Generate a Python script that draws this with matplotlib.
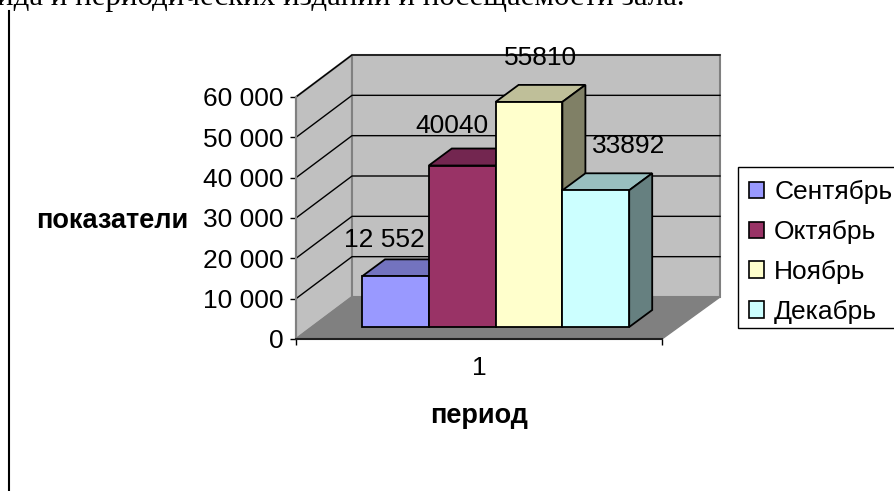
import matplotlib.pyplot as plt
from matplotlib.patches import Patch, Polygon, Rectangle

plt.rcParams['font.family'] = ['Liberation Sans', 'DejaVu Sans']

months = ['Сентябрь', 'Октябрь', 'Ноябрь', 'Декабрь']
values = [12552, 40040, 55810, 33892]
value_labels = ['12 552', '40040', '55810', '33892']
colors = ['#9999FF', '#993366', '#FFFFCC', '#CCFFFF']
top_colors = ['#7373BF', '#732650', '#BFBF99', '#99BFBF']
side_colors = ['#4D4D80', '#4D1A33', '#808066', '#668080']
yticks = [0, 10000, 20000, 30000, 40000, 50000, 60000]
ytick_labels = ['0', '10 000', '20 000', '30 000', '40 000', '50 000', '60 000']

W, H = 895, 491
fig = plt.figure(figsize=(W / 100, H / 100), dpi=100)
ax = fig.add_axes([296 / W, 1 - 339 / H, 366 / W, 242 / H])
ax.set_xlim(0, 366)
ax.set_ylim(0, 60000)
unit = 60000 / 242  # value units per pixel

# oblique depth of the chart box and of the bars
wall_dx, wall_dy = 56, 42 * unit
wall_right = 424
bar_dx, bar_dy = 23, 17 * unit
base = 12 * unit
bar_w = 66.8
bar_x0 = 66

ax.add_patch(Polygon([(0, 0), (wall_dx, wall_dy), (wall_dx, 60000 + wall_dy), (0, 60000)],
                     fc='#C0C0C0', ec='#808080', lw=1.5, clip_on=False, zorder=1))
ax.add_patch(Polygon([(wall_dx, wall_dy), (wall_right, wall_dy), (wall_right, 60000 + wall_dy),
                      (wall_dx, 60000 + wall_dy)],
                     fc='#C0C0C0', ec='#808080', lw=1.5, clip_on=False, zorder=1))
ax.add_patch(Polygon([(0, 0), (366, 0), (wall_right, wall_dy), (wall_dx, wall_dy)],
                     fc='#808080', ec='#808080', lw=1, clip_on=False, zorder=1))

for t in yticks[1:]:
    ax.plot([0, wall_dx, wall_right], [t, t + wall_dy, t + wall_dy],
            color='black', lw=1, clip_on=False, zorder=2)

for i, v in enumerate(values):
    x = bar_x0 + i * bar_w
    z = 3 + i
    ax.add_patch(Polygon([(x, v + base), (x + bar_dx, v + base + bar_dy), (x + bar_w + bar_dx, v + base + bar_dy),
                          (x + bar_w, v + base)],
                         fc=top_colors[i], ec='black', lw=1.3, clip_on=False, zorder=z))
    ax.add_patch(Polygon([(x + bar_w, base), (x + bar_w + bar_dx, base + bar_dy), (x + bar_w + bar_dx, v + base + bar_dy),
                          (x + bar_w, v + base)],
                         fc=side_colors[i], ec='black', lw=1.3, clip_on=False, zorder=z))
    ax.bar(x, v, width=bar_w, bottom=base, align='edge', color=colors[i], edgecolor='black', lw=1.3,
           clip_on=False, zorder=z)

# labels were moved by hand in the original, so each has its own offset
label_dx = [-11, -10, 12, 33]
label_dy = [36, 40, 44, 44]
for i, v in enumerate(values):
    x = bar_x0 + (i + 0.5) * bar_w + label_dx[i]
    ax.text(x, v + base + label_dy[i] * unit, value_labels[i], ha='center', va='center', fontsize=19, zorder=10)

for s in ['top', 'right']:
    ax.spines[s].set_visible(False)
ax.spines['left'].set_color('#808080')
ax.spines['left'].set_linewidth(1.5)
ax.spines['bottom'].set_color('#202020')
ax.spines['bottom'].set_linewidth(1.5)
ax.spines['bottom'].set_zorder(9)
ax.patch.set_visible(False)
ax.set_yticks(yticks, ytick_labels, fontsize=19)
ax.set_xticks([0, 366], ['', ''])
ax.set_xticks([183], ['1'], minor=True, fontsize=19)
ax.tick_params(axis='x', which='minor', length=0, pad=12)
ax.tick_params(axis='both', which='major', length=4, width=1)
ax.tick_params(axis='y', which='major', pad=5)

fig.text(112 / W, 1 - 221 / H, 'показатели', fontsize=19.5, fontweight='bold', ha='center', va='center')
fig.text(479 / W, 1 - 416 / H, 'период', fontsize=19.5, fontweight='bold', ha='center', va='center')

# legend frame is separate: the original box runs off the right edge and has a tighter bottom
fig.add_artist(Rectangle((738 / W, 1 - 328 / H), 175 / W, 161 / H, transform=fig.transFigure,
                         fc='white', ec='black', lw=1))
handles = [Patch(fc=c, ec='black', lw=1.2) for c in colors]
fig.legend(handles, months, loc='upper left', bbox_to_anchor=(738 / W, 1 - 169 / H),
           bbox_transform=fig.transFigure,
           fontsize=19, frameon=False, borderaxespad=0,
           handlelength=0.57, handleheight=0.57, handletextpad=0.38, labelspacing=0.6, borderpad=0.42)

fig.text(-3 / W, 1 - 5 / H, 'ида и периодических изданий и посещаемости зала.',
         family='Liberation Serif', fontsize=22.2, ha='left', va='baseline')
fig.add_artist(plt.Line2D([9 / W, 9 / W], [0, 1 - 11 / H], color='black', lw=1.5))

fig.savefig('out.png', dpi=100)
